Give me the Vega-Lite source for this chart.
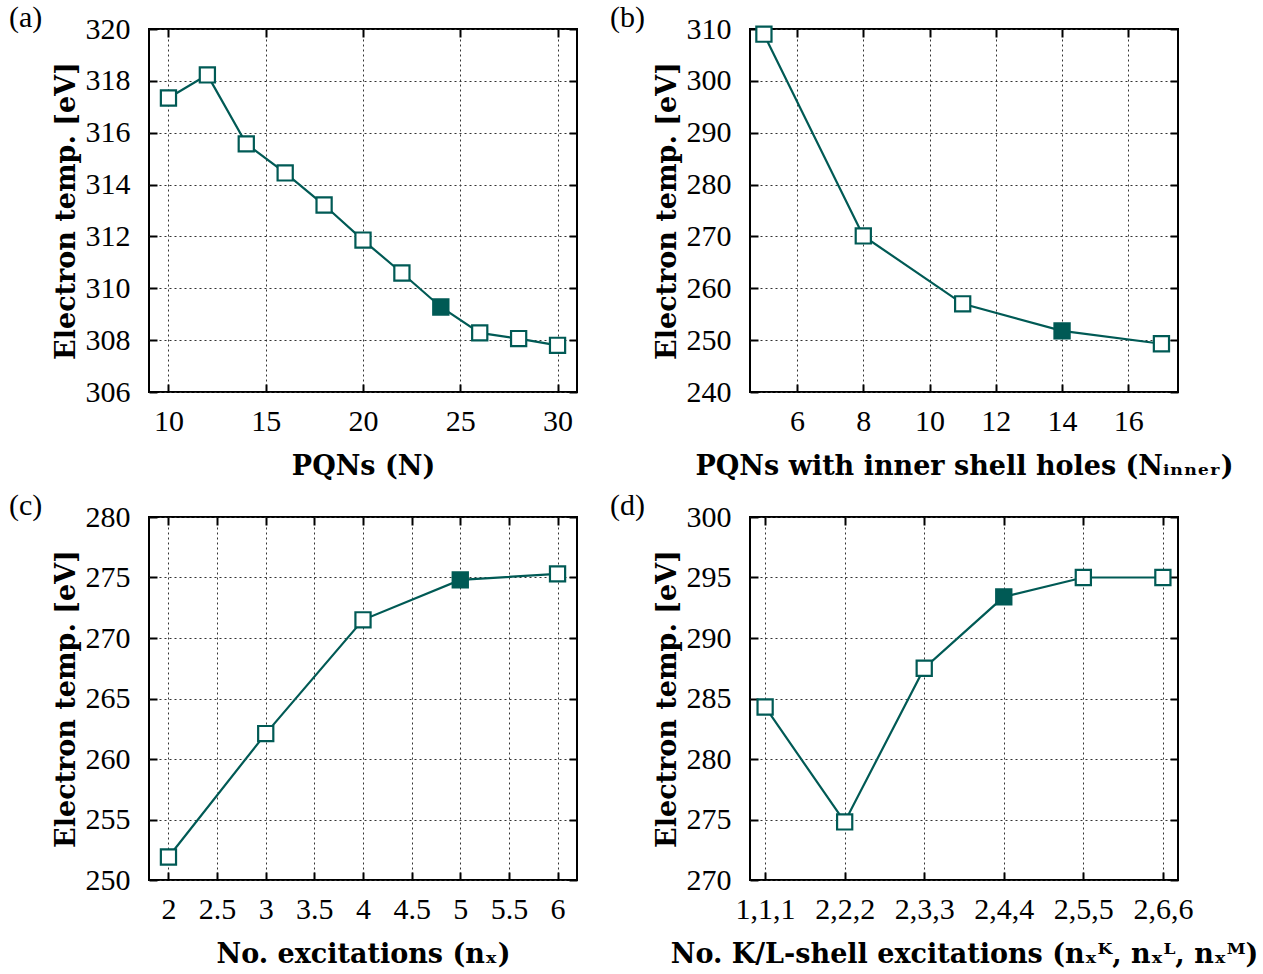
{
  "$schema": "https://vega.github.io/schema/vega-lite/v6.json",
  "padding": {"left": 8, "top": 2, "right": 5, "bottom": 0},
  "background": "white",
  "datasets": {
    "a": [
      {"N": 10, "T": 317.34, "sel": false},
      {"N": 12, "T": 318.23, "sel": false},
      {"N": 14, "T": 315.57, "sel": false},
      {"N": 16, "T": 314.45, "sel": false},
      {"N": 18, "T": 313.21, "sel": false},
      {"N": 20, "T": 311.86, "sel": false},
      {"N": 22, "T": 310.59, "sel": false},
      {"N": 24, "T": 309.28, "sel": true},
      {"N": 26, "T": 308.28, "sel": false},
      {"N": 28, "T": 308.06, "sel": false},
      {"N": 30, "T": 307.8, "sel": false}
    ],
    "b": [
      {"N": 5, "T": 309.0, "sel": false},
      {"N": 8, "T": 270.1, "sel": false},
      {"N": 11, "T": 257.0, "sel": false},
      {"N": 14, "T": 251.8, "sel": true},
      {"N": 17, "T": 249.3, "sel": false}
    ],
    "c": [
      {"n": 2, "T": 251.9, "sel": false},
      {"n": 3, "T": 262.1, "sel": false},
      {"n": 4, "T": 271.5, "sel": false},
      {"n": 5, "T": 274.8, "sel": true},
      {"n": 6, "T": 275.3, "sel": false}
    ],
    "d": [
      {"k": "1,1,1", "T": 284.3, "sel": false},
      {"k": "2,2,2", "T": 274.8, "sel": false},
      {"k": "2,3,3", "T": 287.5, "sel": false},
      {"k": "2,4,4", "T": 293.4, "sel": true},
      {"k": "2,5,5", "T": 295.0, "sel": false},
      {"k": "2,6,6", "T": 295.0, "sel": false}
    ]
  },
  "columns": 2,
  "spacing": {"column": 30, "row": 10},
  "concat": [
    {
      "title": {"text": "(a)"},
      "width": 428, "height": 363,
      "data": {"name": "a"},
      "layer": [
        {
          "mark": {"type": "line", "color": "#005a55", "strokeWidth": 2.2},
          "encoding": {
            "x": {"field": "N", "type": "quantitative", "scale": {"domain": [9, 31], "nice": false, "zero": false},
                  "axis": {"title": "PQNs (N)", "values": [10, 15, 20, 25, 30], "orient": "bottom"}},
            "y": {"field": "T", "type": "quantitative", "scale": {"domain": [306, 320], "nice": false, "zero": false},
                  "axis": {"title": "Electron temp. [eV]", "values": [306, 308, 310, 312, 314, 316, 318, 320], "orient": "left"}}
          }
        },
        {
          "mark": {"type": "point", "shape": "square", "size": 230, "strokeWidth": 2.2, "stroke": "#005a55", "opacity": 1},
          "encoding": {
            "x": {"field": "N", "type": "quantitative", "axis": {"orient": "top", "labels": false, "title": null, "grid": false, "values": [10, 15, 20, 25, 30]}},
            "y": {"field": "T", "type": "quantitative", "axis": {"orient": "right", "labels": false, "title": null, "grid": false, "values": [306, 308, 310, 312, 314, 316, 318, 320]}},
            "fill": {"condition": {"test": "datum.sel", "value": "#005a55"}, "value": "white"}
          }
        }
      ],
      "resolve": {"axis": {"x": "independent", "y": "independent"}}
    },
    {
      "title": {"text": "(b)"},
      "width": 428, "height": 363,
      "data": {"name": "b"},
      "layer": [
        {
          "mark": {"type": "line", "color": "#005a55", "strokeWidth": 2.2},
          "encoding": {
            "x": {"field": "N", "type": "quantitative", "scale": {"domain": [4.58, 17.5], "nice": false, "zero": false},
                  "axis": {"title": "PQNs with inner shell holes (Nᵢₙₙₑᵣ)", "values": [6, 8, 10, 12, 14, 16], "orient": "bottom"}},
            "y": {"field": "T", "type": "quantitative", "scale": {"domain": [240, 310], "nice": false, "zero": false},
                  "axis": {"title": "Electron temp. [eV]", "values": [240, 250, 260, 270, 280, 290, 300, 310], "orient": "left"}}
          }
        },
        {
          "mark": {"type": "point", "shape": "square", "size": 230, "strokeWidth": 2.2, "stroke": "#005a55", "opacity": 1},
          "encoding": {
            "x": {"field": "N", "type": "quantitative", "axis": {"orient": "top", "labels": false, "title": null, "grid": false, "values": [6, 8, 10, 12, 14, 16]}},
            "y": {"field": "T", "type": "quantitative", "axis": {"orient": "right", "labels": false, "title": null, "grid": false, "values": [240, 250, 260, 270, 280, 290, 300, 310]}},
            "fill": {"condition": {"test": "datum.sel", "value": "#005a55"}, "value": "white"}
          }
        }
      ],
      "resolve": {"axis": {"x": "independent", "y": "independent"}}
    },
    {
      "title": {"text": "(c)"},
      "width": 428, "height": 363,
      "data": {"name": "c"},
      "layer": [
        {
          "mark": {"type": "line", "color": "#005a55", "strokeWidth": 2.2},
          "encoding": {
            "x": {"field": "n", "type": "quantitative", "scale": {"domain": [1.8, 6.2], "nice": false, "zero": false},
                  "axis": {"title": "No. excitations (nₓ)", "values": [2, 2.5, 3, 3.5, 4, 4.5, 5, 5.5, 6], "format": "~g", "orient": "bottom"}},
            "y": {"field": "T", "type": "quantitative", "scale": {"domain": [250, 280], "nice": false, "zero": false},
                  "axis": {"title": "Electron temp. [eV]", "values": [250, 255, 260, 265, 270, 275, 280], "orient": "left"}}
          }
        },
        {
          "mark": {"type": "point", "shape": "square", "size": 230, "strokeWidth": 2.2, "stroke": "#005a55", "opacity": 1},
          "encoding": {
            "x": {"field": "n", "type": "quantitative", "axis": {"orient": "top", "labels": false, "title": null, "grid": false, "values": [2, 2.5, 3, 3.5, 4, 4.5, 5, 5.5, 6]}},
            "y": {"field": "T", "type": "quantitative", "axis": {"orient": "right", "labels": false, "title": null, "grid": false, "values": [250, 255, 260, 265, 270, 275, 280]}},
            "fill": {"condition": {"test": "datum.sel", "value": "#005a55"}, "value": "white"}
          }
        }
      ],
      "resolve": {"axis": {"x": "independent", "y": "independent"}}
    },
    {
      "title": {"text": "(d)"},
      "width": 428, "height": 363,
      "data": {"name": "d"},
      "layer": [
        {
          "mark": {"type": "line", "color": "#005a55", "strokeWidth": 2.2},
          "encoding": {
            "x": {"field": "k", "type": "ordinal", "sort": null, "scale": {"type": "point", "padding": 0.19},
                  "axis": {"title": "No. K/L-shell excitations (nₓᴷ, nₓᴸ, nₓᴹ)", "orient": "bottom", "labelAngle": 0}},
            "y": {"field": "T", "type": "quantitative", "scale": {"domain": [270, 300], "nice": false, "zero": false},
                  "axis": {"title": "Electron temp. [eV]", "values": [270, 275, 280, 285, 290, 295, 300], "orient": "left"}}
          }
        },
        {
          "mark": {"type": "point", "shape": "square", "size": 230, "strokeWidth": 2.2, "stroke": "#005a55", "opacity": 1},
          "encoding": {
            "x": {"field": "k", "type": "ordinal", "sort": null, "axis": {"orient": "top", "labels": false, "title": null, "grid": false}},
            "y": {"field": "T", "type": "quantitative", "axis": {"orient": "right", "labels": false, "title": null, "grid": false, "values": [270, 275, 280, 285, 290, 295, 300]}},
            "fill": {"condition": {"test": "datum.sel", "value": "#005a55"}, "value": "white"}
          }
        }
      ],
      "resolve": {"axis": {"x": "independent", "y": "independent"}}
    }
  ],
  "config": {
    "view": {"stroke": "black", "strokeWidth": 2},
    "axis": {
      "domain": false,
      "labelFont": "Liberation Serif",
      "labelFontSize": 30,
      "labelColor": "black",
      "titleFont": "DejaVu Serif",
      "titleFontSize": 27,
      "titleFontWeight": "bold",
      "titleColor": "black",
      "tickColor": "black",
      "tickSize": -8,
      "tickWidth": 2,
      "grid": true,
      "gridColor": "#333",
      "gridDash": [2, 3],
      "gridWidth": 1,
      "gridOpacity": 1
    },
    "axisX": {"labelPadding": 22, "titlePadding": 17},
    "axisY": {"labelPadding": 27, "titlePadding": 5},
    "title": {
      "font": "Liberation Serif",
      "fontSize": 30,
      "fontWeight": "normal",
      "color": "black",
      "anchor": "start",
      "frame": "group",
      "dx": -140,
      "dy": 21,
      "offset": 2,
      "baseline": "alphabetic"
    }
  }
}
